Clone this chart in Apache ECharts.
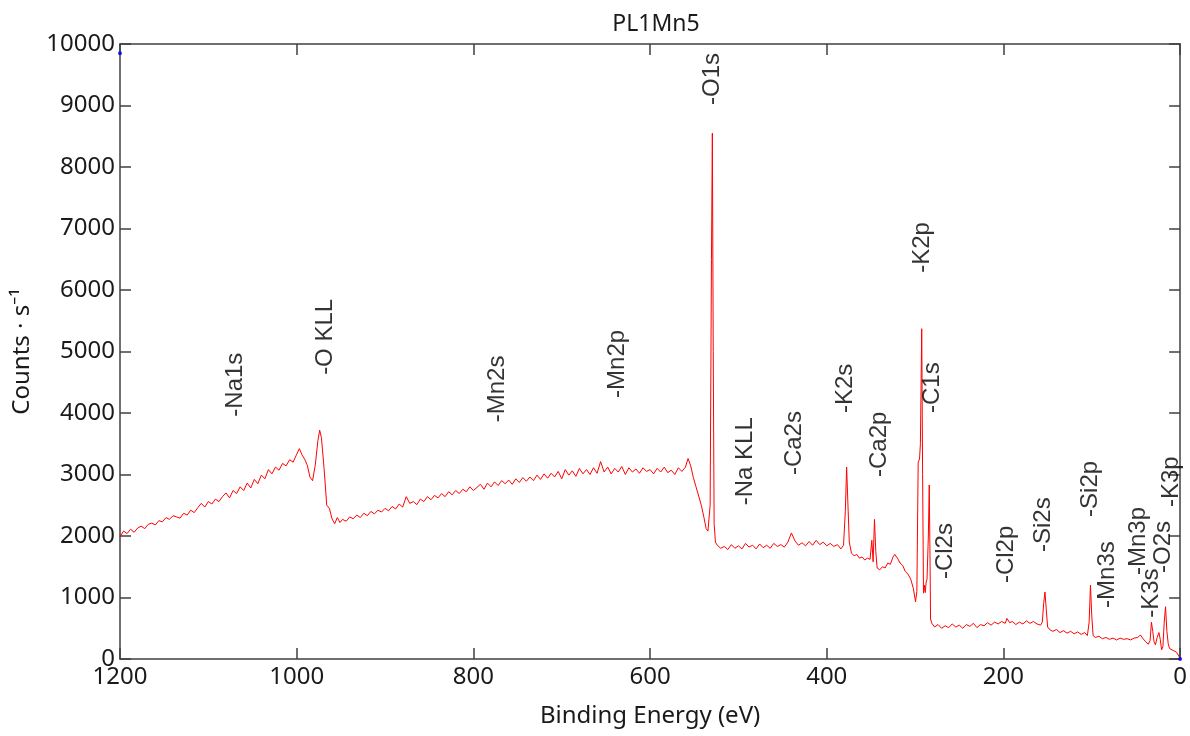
<!DOCTYPE html>
<html>
<head>
<meta charset="utf-8">
<title>PL1Mn5</title>
<script src="https://cdn.jsdelivr.net/npm/echarts@6/dist/echarts.min.js"></script>
<style>
  html, body { margin: 0; padding: 0; background: #fff; }
  #chart { width: 1190px; height: 736px; }
</style>
</head>
<body>
<div id="chart"></div>
<script>
// survey spectrum, [binding energy eV, counts/s]
var bgHigh = [
  [1200, 1990], [1196, 2080], [1192, 2040], [1188, 2110], [1184, 2060], [1180, 2130],
  [1176, 2160], [1172, 2120], [1168, 2190], [1164, 2210], [1160, 2180], [1156, 2250],
  [1152, 2230], [1148, 2300], [1144, 2270], [1140, 2330], [1136, 2310], [1132, 2290],
  [1128, 2370], [1124, 2340], [1120, 2420], [1116, 2380], [1112, 2460], [1108, 2530],
  [1104, 2470], [1100, 2560], [1096, 2520], [1092, 2600], [1088, 2560], [1084, 2640],
  [1080, 2700], [1076, 2620], [1072, 2740], [1068, 2690], [1064, 2800], [1060, 2740],
  [1056, 2860], [1052, 2780], [1048, 2920], [1044, 2850], [1040, 2990], [1036, 2930],
  [1032, 3080], [1028, 3010], [1024, 3120], [1020, 3070], [1016, 3180], [1012, 3140],
  [1008, 3240], [1004, 3200], [1000, 3330], [997, 3420], [994, 3320], [991, 3250],
  [988, 3150], [985, 2960], [982, 2900], [979, 3150], [976, 3550], [974, 3720],
  [972, 3600], [969, 3100], [966, 2500], [963, 2450], [960, 2280], [957, 2200],
  [954, 2300], [951, 2220]
];
var bgMid = [
  [948, 2270], [944, 2240], [940, 2310], [936, 2280], [932, 2340], [928, 2300],
  [924, 2370], [920, 2330], [916, 2400], [912, 2360], [908, 2420], [904, 2390],
  [900, 2450], [896, 2410], [892, 2480], [888, 2440], [884, 2520], [880, 2470],
  [876, 2640], [872, 2530], [868, 2560], [864, 2510], [860, 2600], [856, 2560],
  [852, 2640], [848, 2590], [844, 2660], [840, 2620], [836, 2690], [832, 2640],
  [828, 2720], [824, 2670], [820, 2740], [816, 2690], [812, 2760], [808, 2720],
  [804, 2800], [800, 2740], [796, 2790], [792, 2840], [788, 2760], [784, 2860],
  [780, 2800], [776, 2880], [772, 2820], [768, 2900], [764, 2850], [760, 2910],
  [756, 2840], [752, 2930], [748, 2870], [744, 2950], [740, 2890], [736, 2960],
  [732, 2900], [728, 2990], [724, 2920], [720, 3010], [716, 2940], [712, 3020],
  [708, 2960], [704, 3050], [700, 2930], [696, 3080], [692, 2990], [688, 3060],
  [684, 2970], [680, 3100], [676, 3010], [672, 3080], [668, 3000], [664, 3110],
  [660, 3020], [656, 3210], [652, 3040], [648, 3120], [644, 3010], [640, 3100],
  [636, 3040], [632, 3130], [628, 3000], [624, 3110], [620, 3040], [616, 3090],
  [612, 3020], [608, 3110], [604, 3050], [600, 3080], [596, 3010], [592, 3100],
  [588, 3040], [584, 3120], [580, 3030], [576, 3070], [572, 3000], [568, 3110],
  [564, 3050], [560, 3120], [557, 3260], [554, 3140], [551, 2950], [548, 2800],
  [545, 2650], [542, 2500], [539, 2300], [536.5, 2120], [534.5, 2080]
];
var o1sPeak = [
  [532, 2500], [530.5, 6500], [529.5, 8550], [528.5, 5000], [527.5, 2200], [526, 1900]
];
var bgLow = [
  [524, 1850], [520, 1800], [516, 1830], [512, 1780], [508, 1860], [504, 1800],
  [500, 1840], [496, 1790], [492, 1880], [488, 1820], [484, 1850], [480, 1790],
  [476, 1870], [472, 1810], [468, 1850], [464, 1800], [460, 1880], [456, 1830],
  [452, 1860], [448, 1820], [444, 1900], [440, 2050], [436, 1920], [432, 1850],
  [428, 1890], [424, 1840], [420, 1910], [416, 1850], [412, 1930], [408, 1860],
  [404, 1900], [400, 1840], [396, 1880], [392, 1830], [388, 1860], [384, 1790],
  [381, 1850], [379, 2400], [377.5, 3120], [376, 2500], [374.5, 1900], [372, 1720],
  [369, 1680], [366, 1700], [363, 1640], [360, 1660], [357, 1610], [354, 1640],
  [351, 1620], [349, 1930], [347.5, 1580], [346, 2270], [344.5, 1750], [343, 1480],
  [340, 1450], [337, 1500], [334, 1480], [331, 1560], [328, 1540], [325, 1660],
  [323, 1700], [320, 1640], [317, 1560], [314, 1520], [311, 1420], [308, 1380],
  [305, 1300], [302, 1150], [299.5, 930], [298, 1100], [296.5, 3200], [295, 3250],
  [294, 3500], [292.5, 5370], [291.5, 3000], [290.5, 1070], [289.5, 1200], [288.5, 1080],
  [287.5, 1250], [286.5, 1300], [285, 2000], [284, 2830], [283, 1500], [282.5, 650],
  [281, 580]
];
var bgTail = [
  [278, 520], [274, 560], [270, 500], [266, 540], [262, 510], [258, 570],
  [254, 520], [250, 550], [246, 500], [242, 560], [238, 530], [234, 580],
  [230, 510], [226, 560], [222, 540], [218, 590], [214, 550], [210, 600],
  [206, 570], [202, 610], [198, 580], [196, 660], [193, 590], [190, 610],
  [186, 560], [182, 600], [178, 570], [174, 620], [170, 580], [166, 610],
  [162, 570], [158, 550], [156, 600], [154.5, 900], [153, 1090], [151.5, 800],
  [150, 520], [147, 470], [144, 450], [140, 480], [136, 430], [132, 460],
  [128, 420], [124, 450], [120, 410], [116, 440], [112, 400], [108, 430],
  [105, 380], [103, 600], [101.5, 1200], [100, 700], [98.5, 380], [96, 350],
  [92, 370], [88, 330], [84, 350], [80, 320], [76, 340], [72, 310],
  [68, 340], [64, 320], [60, 330], [56, 310], [52, 340], [48, 350],
  [45, 390], [42, 330], [39, 280], [36, 240], [34, 300], [32.5, 600],
  [31, 450], [29.5, 280], [28, 230], [26, 350], [24, 430], [22.5, 320],
  [21, 150], [19.5, 200], [18, 600], [16.5, 850], [15, 450], [13.5, 250],
  [12, 170], [10, 160], [8, 140], [6, 120], [4, 110], [2, 80], [0, 10]
];
var spectrum = bgHigh.concat(bgMid, o1sPeak, bgLow, bgTail);

// peak labels: name, energy (eV), counts where the label starts
var peakNames = ['Na1s', 'O KLL', 'Mn2s', 'Mn2p', 'O1s', 'Na KLL', 'Ca2s', 'K2s', 'Ca2p', 'K2p',
  'C1s', 'Cl2s', 'Cl2p', 'Si2s', 'Si2p', 'Mn3s', 'Mn3p', 'K3s', 'O2s', 'K3p'];
var peakEnergy = [1069, 968, 773, 637, 530, 492, 437, 378.5, 341, 292,
  281, 266, 196.6, 155, 102, 82.5, 47.5, 33, 19, 10];
var peakLabelY = [3940, 4620, 3850, 4245, 9010, 2500, 2990, 4000, 2960, 6280,
  4000, 1300, 1235, 1740, 2310, 830, 1365, 670, 1400, 2470];

// the two blue corner markers
var cornerPts = [[1200, 9850], [0, 0]];

var xTicks = { min: 0, max: 1200, interval: 200 };
var yTicks = { min: 0, max: 10000, interval: 1000 };

var labelData = peakNames.map(function (n, i) {
  return { value: [peakEnergy[i], peakLabelY[i]], name: n };
});

var axisCol = '#404040';
var txtCol = '#1a1a1a';
var tickFont = { fontFamily: 'Noto Sans', fontSize: 24, color: txtCol };
var plain = function (v) { return String(v); };

function xAx(pos, showLabel) {
  return {
    type: 'value', position: pos, inverse: true,
    min: xTicks.min, max: xTicks.max, interval: xTicks.interval,
    axisLine: { show: true, onZero: false, lineStyle: { color: axisCol, width: 1.5 } },
    axisTick: { show: true, inside: true, length: 11, lineStyle: { color: axisCol, width: 1.5 } },
    axisLabel: Object.assign({ show: showLabel, margin: 6, formatter: plain }, tickFont),
    splitLine: { show: false }
  };
}
function yAx(pos, showLabel) {
  return {
    type: 'value', position: pos,
    min: yTicks.min, max: yTicks.max, interval: yTicks.interval,
    axisLine: { show: true, onZero: false, lineStyle: { color: axisCol, width: 1.5 } },
    axisTick: { show: true, inside: true, length: 11, lineStyle: { color: axisCol, width: 1.5 } },
    axisLabel: Object.assign({ show: showLabel, margin: 5, formatter: plain }, tickFont),
    splitLine: { show: false }
  };
}

var myChart = echarts.init(document.getElementById('chart'));

var xBottom = xAx('bottom', true);
xBottom.name = 'Binding Energy (eV)';
xBottom.nameLocation = 'middle';
xBottom.nameGap = 45;
xBottom.nameTextStyle = { fontFamily: 'Noto Sans', fontSize: 24, color: txtCol };

var yLeft = yAx('left', true);
yLeft.name = 'Counts \u00b7 s\u207b\u00b9';
yLeft.nameLocation = 'middle';
yLeft.nameRotate = 90;
yLeft.nameGap = 86;
yLeft.nameTextStyle = { fontFamily: 'Noto Sans', fontSize: 24, color: txtCol };

myChart.setOption({
  animation: false,
  backgroundColor: '#fff',
  title: {
    text: 'PL1Mn5', left: 651, top: 8, textAlign: 'center',
    textStyle: { fontFamily: 'Noto Sans', fontSize: 23, fontWeight: 'normal', color: txtCol }
  },
  grid: { left: 120, right: 8, top: 44, bottom: 77 },
  xAxis: [xBottom, xAx('top', false)],
  yAxis: [yLeft, yAx('right', false)],
  series: [
    {
      type: 'line',
      data: spectrum,
      showSymbol: false,
      lineStyle: { color: '#ff0000', width: 1 },
      itemStyle: { color: '#ff0000' },
      z: 2
    },
    {
      type: 'scatter',
      data: cornerPts,
      symbolSize: 4,
      itemStyle: { color: '#0000ff' },
      z: 3
    },
    {
      type: 'scatter',
      data: labelData,
      symbolSize: 0,
      silent: true,
      z: 4,
      label: {
        show: true,
        position: 'inside',
        rotate: 90,
        align: 'left',
        verticalAlign: 'middle',
        formatter: function (p) { return '-' + p.name; },
        fontFamily: 'Liberation Sans',
        fontSize: 24,
        color: '#000'
      }
    }
  ]
});
</script>
</body>
</html>
